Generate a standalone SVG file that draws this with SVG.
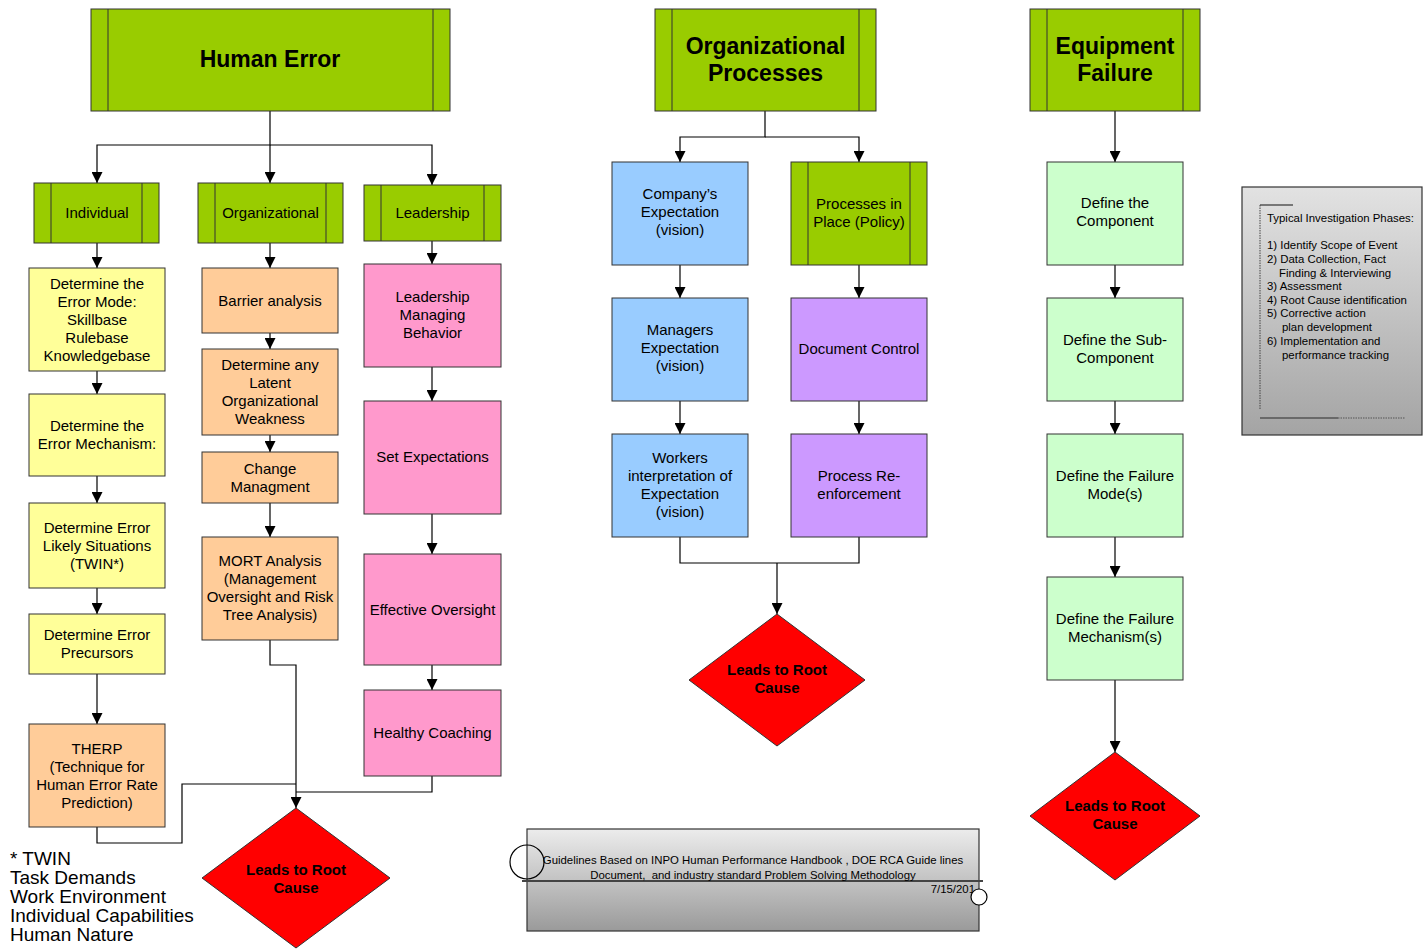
<svg xmlns="http://www.w3.org/2000/svg" width="1426" height="949" viewBox="0 0 1426 949">
<defs>
<marker id="arr" markerUnits="userSpaceOnUse" markerWidth="11" markerHeight="11" refX="11" refY="5.5" orient="auto">
<path d="M0,0 L11,5.5 L0,11 z" fill="#000"/>
</marker>
<linearGradient id="gbox" x1="0" y1="0" x2="0" y2="1">
<stop offset="0" stop-color="#e2e2e2"/>
<stop offset="1" stop-color="#a4a4a4"/>
</linearGradient>
<linearGradient id="gban" x1="0" y1="0" x2="0" y2="1">
<stop offset="0" stop-color="#ececec"/>
<stop offset="1" stop-color="#9a9a9a"/>
</linearGradient>
</defs>
<style>
.b{stroke:#333;stroke-width:1}
.g{fill:#99CC00}
.y{fill:#FFFF99}
.o{fill:#FFCC99}
.p{fill:#FF99CC}
.bl{fill:#99CCFF}
.pu{fill:#CC99FF}
.lg{fill:#CCFFCC}
.d{fill:#FF0000;stroke:#333;stroke-width:1}
.in{stroke:#333;stroke-width:1;fill:none}
text{font-family:"Liberation Sans",Arial,sans-serif;fill:#000}
.t{font-size:15px;text-anchor:middle}
.h{font-size:23px;font-weight:bold;text-anchor:middle}
.dt{font-size:15px;font-weight:bold;text-anchor:middle}
.s{font-size:11.4px}
.c path{fill:none;stroke:#000;stroke-width:1.2}
.a{marker-end:url(#arr)}
</style>
<rect width="1426" height="949" fill="#fff"/>

<g id="connectors" class="c">
<path class="a" d="M270,111 V145 H97 V183"/>
<path class="a" d="M270,145 V183"/>
<path class="a" d="M270,145 H432 V185"/>
<path class="a" d="M97,243 V268"/>
<path class="a" d="M97,371 V394"/>
<path class="a" d="M97,476 V503"/>
<path class="a" d="M97,588 V614"/>
<path class="a" d="M97,674 V724"/>
<path class="a" d="M270,243 V268"/>
<path class="a" d="M270,333 V349"/>
<path class="a" d="M270,435 V452"/>
<path class="a" d="M270,503 V537"/>
<path class="a" d="M432,241 V264"/>
<path class="a" d="M432,367 V401"/>
<path class="a" d="M432,514 V554"/>
<path class="a" d="M432,665 V690"/>
<path class="a" d="M270,640 V665 H296 V808"/>
<path d="M97,827 V843 H182 V784 H296"/>
<path d="M432,776 V792 H296"/>
<path class="a" d="M765,111 V137 H680 V162"/>
<path class="a" d="M765,137 H859 V162"/>
<path class="a" d="M680,265 V298"/>
<path class="a" d="M680,401 V434"/>
<path class="a" d="M859,265 V298"/>
<path class="a" d="M859,401 V434"/>
<path d="M680,537 V563 H859 V537"/>
<path class="a" d="M777,563 V614"/>
<path class="a" d="M1115,111 V162"/>
<path class="a" d="M1115,265 V298"/>
<path class="a" d="M1115,401 V434"/>
<path class="a" d="M1115,537 V577"/>
<path class="a" d="M1115,680 V752"/>
</g>

<g id="human-error">
<rect class="b g" x="91" y="9" width="359" height="102"/>
<path class="in" d="M108,9 V111 M433,9 V111"/>
<text class="h" x="270" y="67">Human Error</text>
</g>
<g id="individual">
<rect class="b g" x="34" y="183" width="125" height="60"/>
<path class="in" d="M51,183 V243 M142,183 V243"/>
<text class="t" x="97" y="218">Individual</text>
</g>
<g id="organizational">
<rect class="b g" x="198" y="183" width="145" height="60"/>
<path class="in" d="M215,183 V243 M326,183 V243"/>
<text class="t" x="270.5" y="218">Organizational</text>
</g>
<g id="leadership">
<rect class="b g" x="364" y="185" width="137" height="56"/>
<path class="in" d="M381,185 V241 M484,185 V241"/>
<text class="t" x="432.5" y="218">Leadership</text>
</g>

<g id="error-mode">
<rect class="b y" x="29" y="268" width="136" height="103"/>
<text class="t" x="97" y="289">Determine the</text>
<text class="t" x="97" y="307">Error Mode:</text>
<text class="t" x="97" y="325">Skillbase</text>
<text class="t" x="97" y="343">Rulebase</text>
<text class="t" x="97" y="361">Knowledgebase</text>
</g>
<g id="error-mechanism">
<rect class="b y" x="29" y="394" width="136" height="82"/>
<text class="t" x="97" y="431">Determine the</text>
<text class="t" x="97" y="449">Error Mechanism:</text>
</g>
<g id="error-situations">
<rect class="b y" x="29" y="503" width="136" height="85"/>
<text class="t" x="97" y="533">Determine Error</text>
<text class="t" x="97" y="551">Likely Situations</text>
<text class="t" x="97" y="569">(TWIN*)</text>
</g>
<g id="error-precursors">
<rect class="b y" x="29" y="614" width="136" height="60"/>
<text class="t" x="97" y="640">Determine Error</text>
<text class="t" x="97" y="658">Precursors</text>
</g>
<g id="therp">
<rect class="b o" x="29" y="724" width="136" height="103"/>
<text class="t" x="97" y="754">THERP</text>
<text class="t" x="97" y="772">(Technique for</text>
<text class="t" x="97" y="790">Human Error Rate</text>
<text class="t" x="97" y="808">Prediction)</text>
</g>

<g id="barrier">
<rect class="b o" x="202" y="268" width="136" height="65"/>
<text class="t" x="270" y="306">Barrier analysis</text>
</g>
<g id="latent">
<rect class="b o" x="202" y="349" width="136" height="86"/>
<text class="t" x="270" y="370">Determine any</text>
<text class="t" x="270" y="388">Latent</text>
<text class="t" x="270" y="406">Organizational</text>
<text class="t" x="270" y="424">Weakness</text>
</g>
<g id="change">
<rect class="b o" x="202" y="452" width="136" height="51"/>
<text class="t" x="270" y="474">Change</text>
<text class="t" x="270" y="492">Managment</text>
</g>
<g id="mort">
<rect class="b o" x="202" y="537" width="136" height="103"/>
<text class="t" x="270" y="566">MORT Analysis</text>
<text class="t" x="270" y="584">(Management</text>
<text class="t" x="270" y="602">Oversight and Risk</text>
<text class="t" x="270" y="620">Tree Analysis)</text>
</g>

<g id="leadership-behavior">
<rect class="b p" x="364" y="264" width="137" height="103"/>
<text class="t" x="432.5" y="302">Leadership</text>
<text class="t" x="432.5" y="320">Managing</text>
<text class="t" x="432.5" y="338">Behavior</text>
</g>
<g id="set-expectations">
<rect class="b p" x="364" y="401" width="137" height="113"/>
<text class="t" x="432.5" y="462">Set Expectations</text>
</g>
<g id="effective-oversight">
<rect class="b p" x="364" y="554" width="137" height="111"/>
<text class="t" x="432.5" y="615">Effective Oversight</text>
</g>
<g id="healthy-coaching">
<rect class="b p" x="364" y="690" width="137" height="86"/>
<text class="t" x="432.5" y="738">Healthy Coaching</text>
</g>

<g id="root-cause-1">
<polygon class="d" points="296,808 390,878 296,948 202,878"/>
<text class="dt" x="296" y="875">Leads to Root</text>
<text class="dt" x="296" y="893">Cause</text>
</g>

<g id="twin-note">
<text x="10" y="865" style="font-size:19px">* TWIN</text>
<text x="10" y="884" style="font-size:19px">Task Demands</text>
<text x="10" y="903" style="font-size:19px">Work Environment</text>
<text x="10" y="922" style="font-size:19px">Individual Capabilities</text>
<text x="10" y="941" style="font-size:19px">Human Nature</text>
</g>

<g id="org-processes">
<rect class="b g" x="655" y="9" width="221" height="102"/>
<path class="in" d="M672,9 V111 M859,9 V111"/>
<text class="h" x="765.5" y="54">Organizational</text>
<text class="h" x="765.5" y="81">Processes</text>
</g>
<g id="company-expectation">
<rect class="b bl" x="612" y="162" width="136" height="103"/>
<text class="t" x="680" y="199">Company’s</text>
<text class="t" x="680" y="217">Expectation</text>
<text class="t" x="680" y="235">(vision)</text>
</g>
<g id="processes-in-place">
<rect class="b g" x="791" y="162" width="136" height="103"/>
<path class="in" d="M808,162 V265 M910,162 V265"/>
<text class="t" x="859" y="209">Processes in</text>
<text class="t" x="859" y="227">Place (Policy)</text>
</g>
<g id="managers-expectation">
<rect class="b bl" x="612" y="298" width="136" height="103"/>
<text class="t" x="680" y="335">Managers</text>
<text class="t" x="680" y="353">Expectation</text>
<text class="t" x="680" y="371">(vision)</text>
</g>
<g id="document-control">
<rect class="b pu" x="791" y="298" width="136" height="103"/>
<text class="t" x="859" y="354">Document Control</text>
</g>
<g id="workers-interpretation">
<rect class="b bl" x="612" y="434" width="136" height="103"/>
<text class="t" x="680" y="463">Workers</text>
<text class="t" x="680" y="481">interpretation of</text>
<text class="t" x="680" y="499">Expectation</text>
<text class="t" x="680" y="517">(vision)</text>
</g>
<g id="process-reinforcement">
<rect class="b pu" x="791" y="434" width="136" height="103"/>
<text class="t" x="859" y="481">Process Re-</text>
<text class="t" x="859" y="499">enforcement</text>
</g>
<g id="root-cause-2">
<polygon class="d" points="777,614 865,680 777,746 689,680"/>
<text class="dt" x="777" y="675">Leads to Root</text>
<text class="dt" x="777" y="693">Cause</text>
</g>

<g id="equipment-failure">
<rect class="b g" x="1030" y="9" width="170" height="102"/>
<path class="in" d="M1047,9 V111 M1183,9 V111"/>
<text class="h" x="1115" y="54">Equipment</text>
<text class="h" x="1115" y="81">Failure</text>
</g>
<g id="define-component">
<rect class="b lg" x="1047" y="162" width="136" height="103"/>
<text class="t" x="1115" y="208">Define the</text>
<text class="t" x="1115" y="226">Component</text>
</g>
<g id="define-subcomponent">
<rect class="b lg" x="1047" y="298" width="136" height="103"/>
<text class="t" x="1115" y="345">Define the Sub-</text>
<text class="t" x="1115" y="363">Component</text>
</g>
<g id="define-failure-mode">
<rect class="b lg" x="1047" y="434" width="136" height="103"/>
<text class="t" x="1115" y="481">Define the Failure</text>
<text class="t" x="1115" y="499">Mode(s)</text>
</g>
<g id="define-failure-mechanism">
<rect class="b lg" x="1047" y="577" width="136" height="103"/>
<text class="t" x="1115" y="624">Define the Failure</text>
<text class="t" x="1115" y="642">Mechanism(s)</text>
</g>
<g id="root-cause-3">
<polygon class="d" points="1115,752 1200,816 1115,880 1030,816"/>
<text class="dt" x="1115" y="811">Leads to Root</text>
<text class="dt" x="1115" y="829">Cause</text>
</g>

<g id="investigation-phases">
<rect x="1242" y="187" width="180" height="248" fill="url(#gbox)" stroke="#333" stroke-width="1.2"/>
<path d="M1260,205 H1293" stroke="#555" stroke-width="1.5" fill="none"/>
<path d="M1260,205 V410" stroke="#444" stroke-width="1" stroke-dasharray="1.5,1" fill="none"/>
<path d="M1260,418 H1338" stroke="#555" stroke-width="1.5" fill="none"/>
<path d="M1338,418 H1405" stroke="#555" stroke-width="1" stroke-dasharray="1.5,1" fill="none"/>
<text class="s" x="1267" y="222">Typical Investigation Phases:</text>
<text class="s" x="1267" y="249">1) Identify Scope of Event</text>
<text class="s" x="1267" y="263">2) Data Collection, Fact</text>
<text class="s" x="1279" y="277">Finding &amp; Interviewing</text>
<text class="s" x="1267" y="290">3) Assessment</text>
<text class="s" x="1267" y="304">4) Root Cause identification</text>
<text class="s" x="1267" y="317">5) Corrective action</text>
<text class="s" x="1282" y="331">plan development</text>
<text class="s" x="1267" y="345">6) Implementation and</text>
<text class="s" x="1282" y="359">performance tracking</text>
</g>

<g id="guidelines-banner">
<rect x="527" y="829" width="452" height="102" fill="url(#gban)" stroke="#333" stroke-width="1.2"/>
<path d="M522,881 H983" stroke="#444" stroke-width="2" fill="none"/>
<circle cx="527" cy="862" r="17" fill="none" stroke="#000" stroke-width="1.2"/>
<text class="s" x="753" y="864" text-anchor="middle">Guidelines Based on INPO Human Performance Handbook , DOE RCA Guide lines</text>
<text class="s" x="753" y="879" text-anchor="middle" style="white-space:pre">Document,  and industry standard Problem Solving Methodology</text>
<text class="s" x="975" y="893" text-anchor="end">7/15/201</text>
<circle cx="979" cy="897" r="8" fill="#fff" stroke="#000" stroke-width="1.2"/>
</g>
</svg>
